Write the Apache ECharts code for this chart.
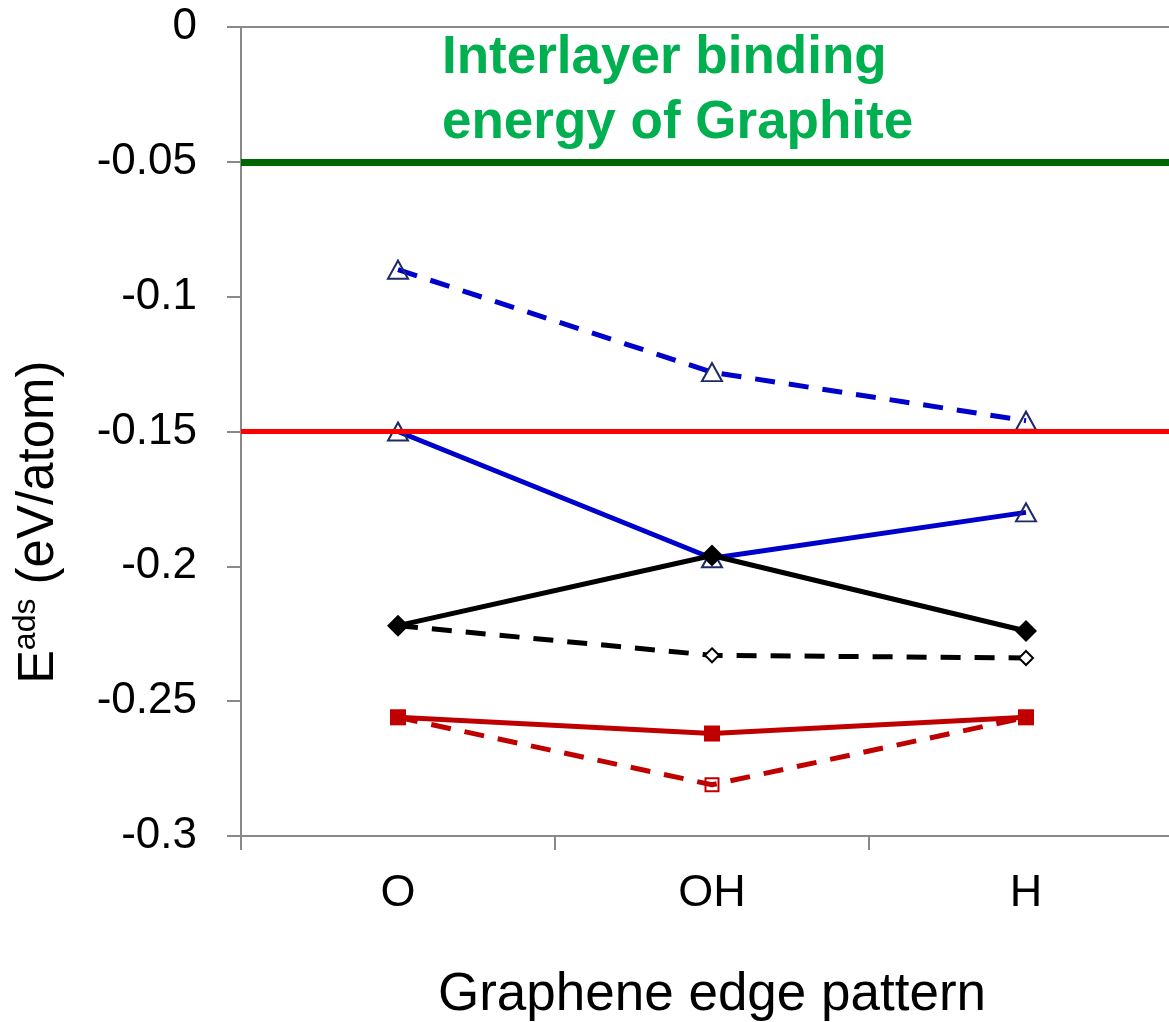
<!DOCTYPE html>
<html lang="en">
<head>
    <meta charset="UTF-8">
    <title>Eads vs graphene edge pattern</title>
    <script src="https://cdn.jsdelivr.net/npm/echarts/dist/echarts.min.js"></script>
    <style>
        body { margin: 0; padding: 0; background: #fff; }
        #chart { width: 1169px; height: 1022px; }
    </style>
</head>
<body>
<div id="chart"></div>
<script>
    // data
    const categories = ["O", "OH", "H"];
    const blueDashed = [-0.090, -0.128, -0.146];
    const blueSolid = [-0.150, -0.197, -0.180];
    const blackSolid = [-0.222, -0.196, -0.224];
    const blackDashed = [-0.222, -0.233, -0.234];
    const redSolid = [-0.256, -0.262, -0.256];
    const redDashed = [-0.256, -0.281, -0.256];
    const graphiteLevel = -0.05;
    const redLevel = -0.15;

    const FONT = '"Liberation Sans", Arial, sans-serif';
    const AXIS_GRAY = "#898989";
    const DASH = [20, 14];

    const chart = echarts.init(document.getElementById("chart"));

    const lineSeries = (data, color, dashed, symbol, size, itemStyle) => ({
        type: "line",
        data: data,
        symbol: symbol,
        symbolSize: size,
        lineStyle: { color: color, width: 5, type: dashed ? DASH : "solid", cap: "butt" },
        itemStyle: itemStyle,
        emphasis: { disabled: true },
        animation: false
    });

    chart.setOption({
        animation: false,
        grid: { left: 241, top: 27, right: -14, bottom: 186, outerBoundsMode: "none", containLabel: false },
        xAxis: {
            type: "category",
            data: categories,
            boundaryGap: true,
            axisLine: { onZero: false, lineStyle: { color: AXIS_GRAY, width: 2 } },
            axisTick: { show: true, interval: 0, length: 14, lineStyle: { color: AXIS_GRAY, width: 2 } },
            axisLabel: { color: "#000", fontSize: 45, fontFamily: FONT, margin: 35 },
            name: "Graphene edge pattern",
            nameLocation: "middle",
            nameGap: 133,
            nameTextStyle: { color: "#000", fontSize: 53, fontFamily: FONT }
        },
        yAxis: {
            type: "value",
            min: -0.3,
            max: 0,
            interval: 0.05,
            splitLine: { show: false },
            axisLine: { show: true, lineStyle: { color: AXIS_GRAY, width: 2 } },
            axisTick: { show: true, length: 14, lineStyle: { color: AXIS_GRAY, width: 2 } },
            axisLabel: {
                color: "#000", fontSize: 44, fontFamily: FONT, margin: 44,
                formatter: (v) => String(parseFloat(v.toFixed(2)))
            }
        },
        series: [
            lineSeries(blueDashed, "#0000cc", true, "triangle", [20, 18],
                { color: "transparent", borderColor: "#1c2a66", borderWidth: 2 }),
            lineSeries(blueSolid, "#0000cc", false, "triangle", [20, 18],
                { color: "transparent", borderColor: "#1c2a66", borderWidth: 2 }),
            lineSeries(blackDashed, "#000000", true, "diamond", 14,
                { color: "#ffffff", borderColor: "#000000", borderWidth: 2 }),
            lineSeries(blackSolid, "#000000", false, "diamond", 22,
                { color: "#000000" }),
            lineSeries(redDashed, "#c00000", true, "rect", 13,
                { color: "transparent", borderColor: "#c00000", borderWidth: 2 }),
            lineSeries(redSolid, "#c00000", false, "rect", 16,
                { color: "#c00000" }),
            {
                // reference lines
                type: "line",
                data: [],
                markLine: {
                    silent: true,
                    symbol: "none",
                    label: { show: false },
                    animation: false,
                    data: [
                        { yAxis: 0, lineStyle: { color: AXIS_GRAY, width: 2, type: "solid" } },
                        { yAxis: graphiteLevel, lineStyle: { color: "#006600", width: 7, type: "solid" } },
                        { yAxis: redLevel, lineStyle: { color: "#ff0000", width: 5, type: "solid" } }
                    ]
                }
            }
        ],
        graphic: [
            {
                type: "text",
                x: 442,
                y: 91,
                style: {
                    text: "Interlayer binding\nenergy of Graphite",
                    font: "bold 53px " + FONT,
                    fill: "#00b050",
                    lineHeight: 65,
                    align: "left",
                    verticalAlign: "middle",
                    textAlign: "left",
                    textVerticalAlign: "middle"
                }
            },
            {
                type: "text",
                x: 39,
                y: 522,
                rotation: Math.PI / 2,
                style: {
                    text: "{e|E}{s|ads}{n| (eV/atom)}",
                    fill: "#000",
                    align: "center",
                    verticalAlign: "middle",
                    textAlign: "center",
                    textVerticalAlign: "middle",
                    rich: {
                        e: { fontSize: 50, lineHeight: 58, fontFamily: FONT, fill: "#000" },
                        s: { fontSize: 32, lineHeight: 56, fontFamily: FONT, fill: "#000", verticalAlign: "top" },
                        n: { fontSize: 51, lineHeight: 58, fontFamily: FONT, fill: "#000" }
                    }
                }
            }
        ]
    });
</script>
</body>
</html>
